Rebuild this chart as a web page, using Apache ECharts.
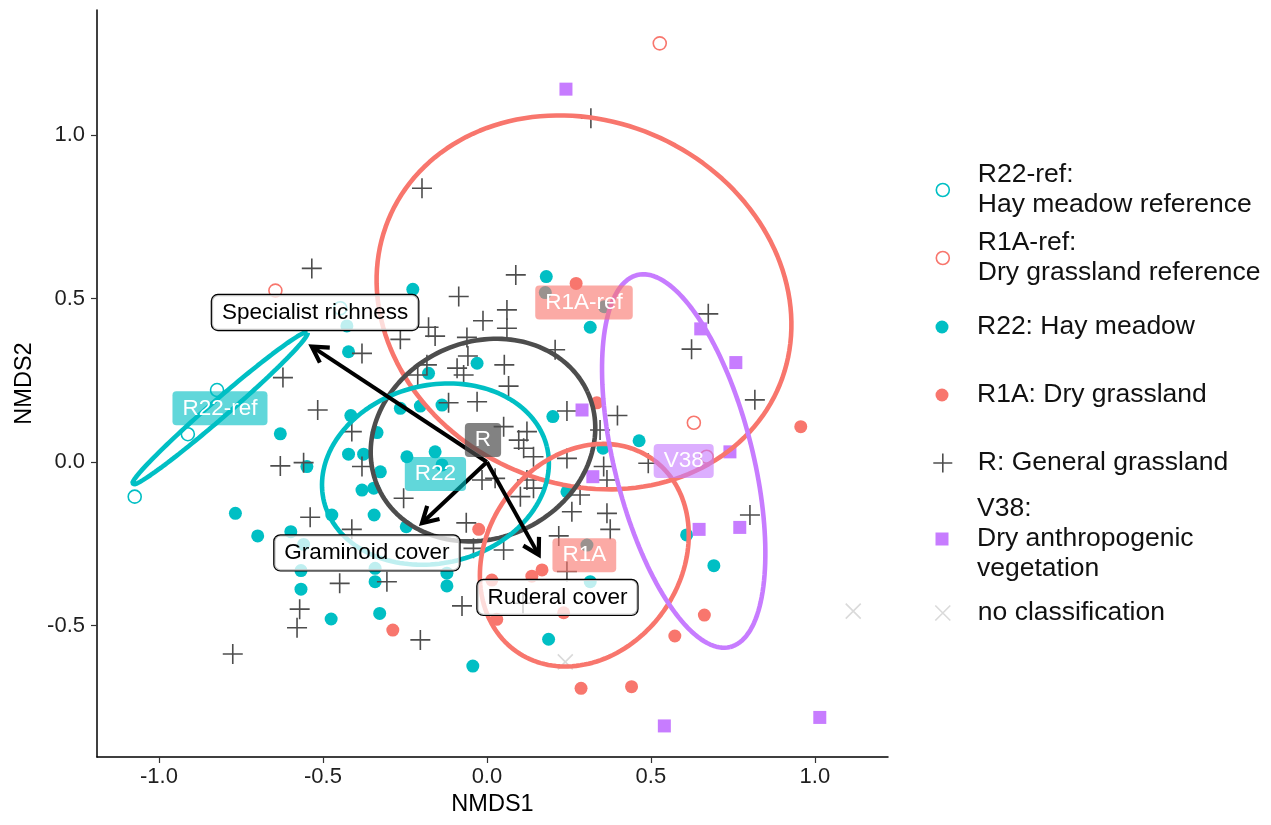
<!DOCTYPE html>
<html>
<head>
<meta charset="utf-8">
<script src="https://cdn.jsdelivr.net/npm/echarts@6.0.0/dist/echarts.min.js"></script>
<style>
  html, body { margin: 0; padding: 0; background: #fff; }
  #chart { width: 1271px; height: 825px; }
</style>
</head>
<body>
<div id="chart"></div>
<script>
// NMDS site scores
const r22refX = [-0.447, -0.823, -0.912, -1.074];
const r22refY = [0.470, 0.220, 0.085, -0.106];

const r1arefX = [-0.645, 0.527, 0.631, 0.670];
const r1arefY = [0.524, 1.280, 0.120, 0.016];

const r22X = [-0.422, -0.427, -0.415, -0.630, -0.422, -0.376, -0.549, -0.381, -0.767, -0.473,
  -0.699, -0.598, -0.559, -0.567, -0.567, -0.475, 0.181, 0.178, -0.226, 0.315,
  0.358, -0.030, -0.178, -0.203, -0.137, -0.264, 0.201, -0.335, 0.354, -0.244,
  -0.158, -0.137, -0.325, -0.345, 0.244, 0.464, 0.609, 0.692, -0.344, -0.246,
  0.305, 0.315, -0.341, -0.341, -0.122, -0.122, -0.327, -0.043, 0.188];
const r22Y = [0.337, 0.416, 0.142, 0.086, 0.024, 0.024, -0.014, -0.086, -0.157, -0.162,
  -0.226, -0.213, -0.252, -0.332, -0.389, -0.480, 0.567, 0.518, 0.528, 0.412,
  0.475, 0.302, 0.271, 0.171, 0.174, 0.164, 0.139, 0.090, 0.042, 0.016,
  0.031, -0.009, -0.030, -0.080, -0.091, 0.065, -0.223, -0.317, -0.162, -0.198,
  -0.254, -0.366, -0.325, -0.366, -0.340, -0.379, -0.463, -0.624, -0.542];

const r1aX = [0.272, 0.335, 0.957, 0.663, 0.573, 0.441, 0.287, -0.025, 0.168, 0.137,
  0.015, -0.287, 0.030, 0.234];
const r1aY = [0.546, 0.181, 0.108, -0.468, -0.532, -0.687, -0.692, -0.206, -0.330, -0.349,
  -0.361, -0.514, -0.481, -0.461];

const rX = [-0.534, -0.622, -0.381, -0.516, -0.412, -0.630, -0.559, -0.381, -0.539, -0.412,
  -0.449, -0.571, -0.579, -0.775, 0.088, -0.086, 0.061, -0.012, 0.061, -0.178,
  -0.158, -0.264, -0.061, -0.058, 0.208, 0.053, -0.091, -0.071, -0.211, -0.183,
  0.066, -0.117, -0.030, 0.244, 0.398, 0.345, 0.097, 0.122, 0.051, 0.112,
  0.142, 0.244, 0.356, 0.366, -0.015, 0.025, 0.122, 0.142, -0.254, 0.102,
  0.284, 0.675, 0.624, 0.817, 0.492, 0.802, 0.317, -0.198, -0.063, -0.041,
  0.051, 0.259, 0.366, 0.219, 0.376, 0.244, -0.305, -0.076, -0.203, 0.110];
const rY = [0.592, 0.258, 0.332, 0.159, 0.093, -0.012, -0.002, -0.014, -0.169, -0.206,
  -0.371, -0.450, -0.507, -0.587, 0.572, 0.506, 0.465, 0.432, 0.409, 0.412,
  0.385, 0.375, 0.381, 0.324, 0.343, 0.297, 0.287, 0.266, 0.266, 0.297,
  0.232, 0.181, 0.184, 0.156, 0.142, 0.098, 0.067, 0.093, 0.108, 0.042,
  0.016, 0.011, -0.014, -0.055, -0.055, -0.050, -0.055, -0.080, -0.111, -0.106,
  -0.101, 0.453, 0.345, 0.190, -0.004, -0.162, 1.051, 0.837, -0.186, -0.264,
  -0.269, -0.152, -0.157, -0.226, -0.206, -0.335, -0.366, -0.440, -0.544, -0.432];

const v38X = [0.241, 0.290, 0.323, 0.652, 0.759, 0.741, 0.647, 0.771, 0.541, 1.015];
const v38Y = [1.140, 0.159, -0.045, 0.407, 0.304, 0.031, -0.206, -0.200, -0.807, -0.781];

const ncX = [1.117, 0.239];
const ncY = [-0.456, -0.611];

// group centroids (label positions) and 95% ellipse shapes
const groupNames = ['R22-ref', 'R1A-ref', 'R', 'R22', 'R1A', 'V38'];
const groupCx = [-0.814, 0.296, -0.012, -0.157, 0.297, 0.600];
const groupCy = [0.164, 0.488, 0.067, -0.037, -0.285, 0.003];
const ellA = [0.354, 0.648, 0.351, 0.350, 0.360, 0.586];
const ellB = [0.027, 0.554, 0.300, 0.272, 0.296, 0.211];
const ellAngle = [41, -24.8, 25, 14, 55, -76];

// environmental fit arrows (from origin)
const arrowNames = ['Specialist richness', 'Graminoid cover', 'Ruderal cover'];
const arrowX = [-0.534, -0.198, 0.158];
const arrowY = [0.353, -0.187, -0.284];
const arrowLabelX = [-0.524, -0.366, 0.215];
const arrowLabelY = [0.457, -0.278, -0.414];

const xTicks = [-1, -0.5, 0, 0.5, 1];
const yTicks = [-0.5, 0, 0.5, 1];

const FONT = '"Liberation Sans", Arial, sans-serif';
const colCyan = '#00BFC4', colRed = '#F8766D', colPurple = '#C77CFF', colGrey = '#4D4D4D';
const groupColors = [colCyan, colRed, colGrey, colCyan, colRed, colPurple];
const groupFill = ['rgba(0,191,196,0.62)', 'rgba(248,118,109,0.62)', 'rgba(77,77,77,0.7)',
  'rgba(0,191,196,0.62)', 'rgba(248,118,109,0.62)', 'rgba(199,124,255,0.62)'];

const CROSS = 'path://M10,0L10,20M0,10L20,10';
const XMARK = 'path://M0,0L20,20M0,20L20,0';

function pts(xs, ys) {
  return xs.map((x, i) => [x, ys[i]]);
}

function ellipse(i) {
  const t = ellAngle[i] * Math.PI / 180;
  const out = [];
  for (let k = 0; k <= 160; k++) {
    const u = k / 160 * 2 * Math.PI;
    const ex = ellA[i] * Math.cos(u), ey = ellB[i] * Math.sin(u);
    out.push([groupCx[i] + ex * Math.cos(t) - ey * Math.sin(t),
              groupCy[i] + ex * Math.sin(t) + ey * Math.cos(t)]);
  }
  return out;
}

const chart = echarts.init(document.getElementById('chart'));

const legendItems = [
  { name: 'R22-ref:\nHay meadow reference', cy: 190, lines: 2, icon: 'circle', size: 13,
    itemStyle: { color: 'transparent', borderColor: colCyan, borderWidth: 1.6 } },
  { name: 'R1A-ref:\nDry grassland reference', cy: 258, lines: 2, icon: 'circle', size: 13,
    itemStyle: { color: 'transparent', borderColor: colRed, borderWidth: 1.6 } },
  { name: 'R22: Hay meadow', cy: 327, lines: 1, icon: 'circle', size: 13,
    itemStyle: { color: colCyan, borderWidth: 0 } },
  { name: 'R1A: Dry grassland', cy: 395, lines: 1, icon: 'circle', size: 13,
    itemStyle: { color: colRed, borderWidth: 0 } },
  { name: 'R: General grassland', cy: 463, lines: 1, icon: CROSS, size: 19,
    itemStyle: { color: 'transparent', borderColor: colGrey, borderWidth: 1.6 } },
  { name: 'V38:\nDry anthropogenic\nvegetation', cy: 539, lines: 3, icon: 'rect', size: 13,
    itemStyle: { color: colPurple, borderWidth: 0 } },
  { name: 'no classification', cy: 613, lines: 1, icon: XMARK, size: 15,
    itemStyle: { color: 'transparent', borderColor: '#DADADA', borderWidth: 1.6 } }
];

const legends = legendItems.map(it => ({
  left: 942 - it.size / 2,
  top: it.cy - it.lines * 15,
  orient: 'vertical',
  selectedMode: false,
  itemWidth: it.size,
  itemHeight: it.size,
  padding: 0,
  data: [{ name: it.name, icon: it.icon, itemStyle: it.itemStyle }],
  textStyle: {
    fontFamily: FONT, fontSize: 26.5, lineHeight: 30, color: '#111',
    padding: [0, 0, 0, 30 - it.size / 2]
  }
}));

const pointSeries = [
  { name: legendItems[0].name, data: pts(r22refX, r22refY), symbol: 'circle', symbolSize: 13,
    itemStyle: { color: 'transparent', borderColor: colCyan, borderWidth: 1.6 } },
  { name: legendItems[1].name, data: pts(r1arefX, r1arefY), symbol: 'circle', symbolSize: 13,
    itemStyle: { color: 'transparent', borderColor: colRed, borderWidth: 1.6 } },
  { name: legendItems[2].name, data: pts(r22X, r22Y), symbol: 'circle', symbolSize: 13,
    itemStyle: { color: colCyan } },
  { name: legendItems[3].name, data: pts(r1aX, r1aY), symbol: 'circle', symbolSize: 13,
    itemStyle: { color: colRed } },
  { name: legendItems[4].name, data: pts(rX, rY), symbol: CROSS, symbolSize: 20,
    itemStyle: { color: 'transparent', borderColor: colGrey, borderWidth: 1.6 } },
  { name: legendItems[5].name, data: pts(v38X, v38Y), symbol: 'rect', symbolSize: 13,
    itemStyle: { color: colPurple } },
  { name: legendItems[6].name, data: pts(ncX, ncY), symbol: XMARK, symbolSize: 15,
    itemStyle: { color: 'transparent', borderColor: '#DADADA', borderWidth: 1.6 } }
].map(s => {
  s.itemStyle.opacity = 1;
  return Object.assign({ type: 'scatter', z: 2, silent: true }, s);
});

const ellipseSeries = groupNames.map((g, i) => ({
  type: 'line',
  name: 'ellipse ' + g,
  data: ellipse(i),
  showSymbol: false,
  symbol: 'none',
  silent: true,
  z: 3,
  lineStyle: { color: groupColors[i], width: 4.6 }
}));

const arrowSeries = {
  type: 'custom',
  name: 'arrows',
  coordinateSystem: 'cartesian2d',
  silent: true,
  z: 4,
  data: pts(arrowX, arrowY),
  renderItem(params, api) {
    const p0 = api.coord([0, 0]);
    const p1 = api.coord([api.value(0), api.value(1)]);
    const ang = Math.atan2(p1[1] - p0[1], p1[0] - p0[0]);
    const L = 18, w = Math.PI / 6;
    const h1 = [p1[0] - L * Math.cos(ang - w), p1[1] - L * Math.sin(ang - w)];
    const h2 = [p1[0] - L * Math.cos(ang + w), p1[1] - L * Math.sin(ang + w)];
    const e = [p1[0] - 2 * Math.cos(ang), p1[1] - 2 * Math.sin(ang)];
    return {
      type: 'group',
      children: [
        { type: 'line', shape: { x1: p0[0], y1: p0[1], x2: e[0], y2: e[1] },
          style: { stroke: '#000', lineWidth: 4 } },
        { type: 'polyline', shape: { points: [h1, p1, h2] },
          style: { stroke: '#000', lineWidth: 4.2, fill: null, lineJoin: 'miter' } }
      ]
    };
  }
};

const groupLabelSeries = {
  type: 'scatter',
  name: 'group labels',
  silent: true,
  z: 6,
  symbolSize: 0,
  itemStyle: { opacity: 1 },
  data: groupNames.map((g, i) => ({
    name: g, value: [groupCx[i], groupCy[i]],
    label: { backgroundColor: groupFill[i] }
  })),
  label: {
    show: true, position: 'inside', formatter: p => p.name,
    color: '#fff', fontFamily: FONT, fontSize: 22.5, lineHeight: 26,
    borderRadius: 4, padding: [5, 10, 3, 10]
  }
};

const arrowLabelSeries = {
  type: 'scatter',
  name: 'arrow labels',
  silent: true,
  z: 6,
  symbolSize: 0,
  itemStyle: { opacity: 1 },
  data: arrowNames.map((n, i) => ({ name: n, value: [arrowLabelX[i], arrowLabelY[i]] })),
  label: {
    show: true, position: 'inside', formatter: p => p.name,
    color: '#000', fontFamily: FONT, fontSize: 22.5, lineHeight: 26,
    backgroundColor: 'rgba(255,255,255,0.75)', borderColor: '#000', borderWidth: 1.2,
    borderRadius: 6, padding: [5, 10, 4, 10]
  }
};

chart.setOption({
  backgroundColor: '#fff',
  animation: false,
  textStyle: { fontFamily: FONT },
  grid: { left: 97, right: 383, top: 10, bottom: 68, containLabel: false },
  legend: legends,
  xAxis: {
    type: 'value', min: -1.189, max: 1.223,
    name: 'NMDS1', nameLocation: 'middle', nameGap: 36,
    nameTextStyle: { fontFamily: FONT, fontSize: 23.5, color: '#000' },
    axisLine: { show: true, onZero: false, lineStyle: { color: '#000', width: 1.5 } },
    axisTick: { show: true, length: 6, customValues: xTicks, lineStyle: { color: '#333', width: 1.2 } },
    axisLabel: { customValues: xTicks, formatter: v => v.toFixed(1), margin: 9,
      fontFamily: FONT, fontSize: 22, color: '#1f1f1f' },
    splitLine: { show: false }
  },
  yAxis: {
    type: 'value', min: -0.902, max: 1.382,
    name: 'NMDS2', nameLocation: 'middle', nameGap: 57,
    nameTextStyle: { fontFamily: FONT, fontSize: 23.5, color: '#000' },
    axisLine: { show: true, onZero: false, lineStyle: { color: '#000', width: 1.5 } },
    axisTick: { show: true, length: 6, customValues: yTicks, lineStyle: { color: '#333', width: 1.2 } },
    axisLabel: { customValues: yTicks, formatter: v => v.toFixed(1), margin: 12,
      fontFamily: FONT, fontSize: 22, color: '#1f1f1f' },
    splitLine: { show: false }
  },
  series: pointSeries.concat(ellipseSeries, [arrowSeries, groupLabelSeries, arrowLabelSeries])
});
</script>
</body>
</html>
